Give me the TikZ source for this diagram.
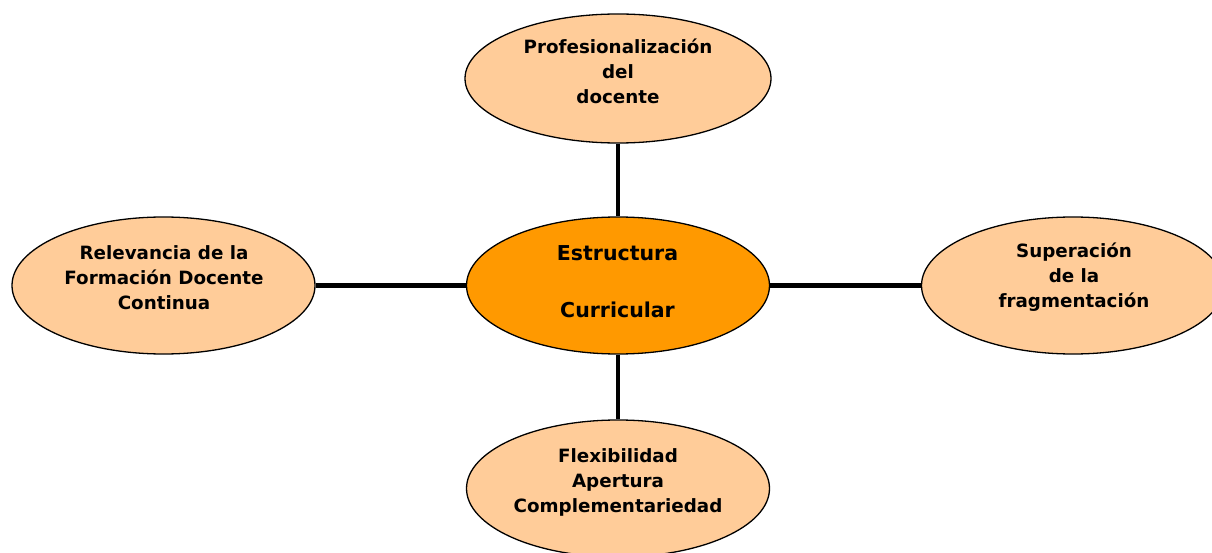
\documentclass[tikz,border=0pt]{standalone}
\usepackage{fontspec}
\setmainfont{DejaVu Sans}
\usetikzlibrary{shapes.geometric}
\definecolor{lightorange}{RGB}{255,204,153}
\definecolor{deeporange}{RGB}{255,153,0}
\tikzset{
  bubble/.style={ellipse, draw=black, line width=1.3pt, fill=lightorange,
    minimum width=303pt, minimum height=137pt, inner sep=0pt},
  hub/.style={bubble, fill=deeporange},
  btext/.style={align=center, font=\fontsize{18.3}{25}\selectfont\bfseries, inner sep=0pt},
  htext/.style={align=center, font=\fontsize{20.5}{28.5}\selectfont\bfseries, inner sep=0pt},
  link/.style={line width=4.6pt, black}
}
\begin{document}
\begin{tikzpicture}[x=1pt,y=-1pt]
\useasboundingbox (0,0) rectangle (1212,553);
\clip (0,0) rectangle (1212,553);
\fill[white] (0,0) rectangle (1212,553);
% ellipses
\node[bubble, minimum width=306pt, minimum height=129pt] (top) at (618,78.5) {};
\node[hub] (mid) at (618,285.5) {};
\node[bubble] (left) at (163.5,285.5) {};
\node[bubble] (right) at (1073,285.5) {};
\node[bubble] (bot) at (618,488.5) {};
% connectors
\begin{scope}[on background layer/.try]
\end{scope}
\draw[link] (top.south) -- (mid.north);
\draw[link] (mid.south) -- (bot.north);
\draw[link] (mid.west) -- (left.east);
\draw[link] (mid.east) -- (right.west);
% texts
\node[btext] (toptext) at (618,71) {Profesionalización\\del\\docente};
\node[htext] (midtext) at (617.5,281.5) {Estructura\\[28.5pt]Curricular};
\node[btext] (lefttext) at (164,277.5) {Relevancia de la\\Formación Docente\\Continua};
\node[btext] (righttext) at (1074,277.5) {Superación\\de la\\fragmentación};
\node[btext] (bottext) at (618,482) {Flexibilidad\\Apertura\\Complementariedad};
\end{tikzpicture}
\end{document}
